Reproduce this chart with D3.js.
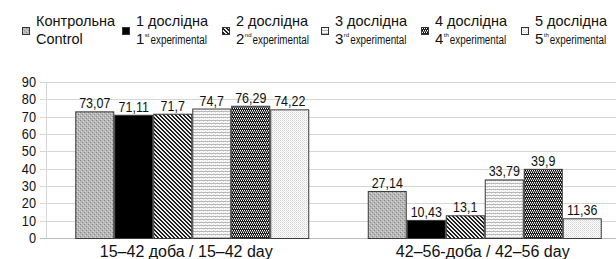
<!DOCTYPE html>
<html><head><meta charset="utf-8">
<script src="https://cdn.jsdelivr.net/npm/d3@7"></script>
<style>body{margin:0;background:#fff}svg{display:block}text{font-family:"Liberation Sans",Arial,sans-serif;fill:#111}</style>
</head><body>
<svg id="c" width="616" height="259"></svg>
<script>
const categories = ["15–42 доба / 15–42 day", "42–56-доба / 42–56 day"];
const seriesNames = ["Контрольна", "1 дослідна", "2 дослідна", "3 дослідна", "4 дослідна", "5 дослідна"];
const seriesSub = ["Control", "1", "2", "3", "4", "5"];
const seriesSup = ["", "st", "nd", "rd", "th", "th"];
const seriesValues = [
  [73.07, 27.14],
  [71.11, 10.43],
  [71.7, 13.1],
  [74.7, 33.79],
  [76.29, 39.9],
  [74.22, 11.36]
];
const valueLabels = [
  ["73,07", "27,14"],
  ["71,11", "10,43"],
  ["71,7", "13,1"],
  ["74,7", "33,79"],
  ["76,29", "39,9"],
  ["74,22", "11,36"]
];
const yTicks = [0, 10, 20, 30, 40, 50, 60, 70, 80, 90];

const svg = d3.select("#c");
const defs = svg.append("defs");

function squeeze(sel, f) {
  sel.each(function () {
    const w = this.getComputedTextLength();
    d3.select(this).attr("textLength", w * f).attr("lengthAdjust", "spacingAndGlyphs");
  });
}

function pat(id, w, h, bg, draw) {
  const p = defs.append("pattern").attr("id", id).attr("patternUnits", "userSpaceOnUse")
    .attr("width", w).attr("height", h);
  p.append("rect").attr("width", w).attr("height", h).attr("fill", bg);
  draw(p);
}
function px(p, pts, col) { pts.forEach(([x, y]) => p.append("rect").attr("x", x).attr("y", y).attr("width", 1).attr("height", 1).attr("fill", col)); }

pat("p0", 4, 4, "#b8b8b8", p => { px(p, [[0,0],[2,2]], "#888"); px(p, [[1,3],[3,1]], "#d8d8d8"); });
pat("p1", 4, 4, "#000", p => {});
pat("p2", 4, 4, "#eeeeee", p => { px(p, [[0,0],[1,0],[1,1],[2,1],[2,2],[3,2],[3,3],[0,3]], "#1e1e1e"); });
pat("p3", 4, 3, "#fafafa", p => { p.append("rect").attr("x",0).attr("y",0).attr("width",4).attr("height",1).attr("fill","#b8b8b8"); px(p, [[1,2],[3,1]], "#dedede"); });
pat("p4", 4, 4, "#6e6e6e", p => { px(p, [[0,0],[2,0],[1,2],[3,2]], "#000"); px(p, [[1,0],[3,0],[0,2],[2,2]], "#fff"); px(p, [[0,1],[1,1],[2,1],[3,1]], "#2a2a2a"); });
pat("p5", 2, 2, "#ffffff", p => { px(p, [[0,0]], "#d2d2d2"); px(p, [[1,1]], "#e6e6e6"); });

const x0 = d3.scaleBand().domain(categories).range([46, 631]).paddingInner(0.2).paddingOuter(0.1);
const x1 = d3.scaleBand().domain(d3.range(seriesNames.length)).range([0, x0.bandwidth()]);
const y = d3.scaleLinear().domain([0, 90]).range([238, 82]);

// gridlines
svg.append("g").selectAll("line").data(yTicks).join("line")
  .attr("x1", 40).attr("x2", 616).attr("y1", d => Math.round(y(d)) + 0.5).attr("y2", d => Math.round(y(d)) + 0.5)
  .attr("stroke", d => d === 0 ? "#bdbdbd" : "#d6d6d6").attr("stroke-width", 1);
svg.append("line").attr("x1", 46.5).attr("x2", 46.5).attr("y1", y(90)).attr("y2", y(0))
  .attr("stroke", "#d6d6d6");

// y labels
svg.append("g").selectAll("text").data(yTicks).join("text")
  .attr("x", 36).attr("y", d => y(d) + 5).attr("text-anchor", "end")
  .style("font-size", "14.5px").text(d => d).call(squeeze, 0.88);

// bars
const rowData = (s, i) => categories.map((c, j) => ({ c, i, v: seriesValues[i][j], l: valueLabels[i][j] }));
const groups = svg.append("g").selectAll("g").data(seriesNames).join("g");
groups.selectAll("rect").data(rowData).join("rect")
  .attr("x", d => x0(d.c) + x1(d.i) + 0.5)
  .attr("y", d => y(d.v) + 0.5)
  .attr("width", x1.bandwidth() - 1)
  .attr("height", d => y(0) - y(d.v))
  .attr("fill", d => `url(#p${d.i})`)
  .attr("stroke", "#3a3a3a").attr("stroke-width", 1);
groups.selectAll("text").data(rowData).join("text")
  .attr("x", d => x0(d.c) + x1(d.i) + x1.bandwidth() / 2)
  .attr("y", d => y(d.v) - 3)
  .attr("text-anchor", "middle").style("font-size", "14.5px")
  .text(d => d.l).call(squeeze, 0.86);

// category labels
svg.append("g").selectAll("text").data(categories).join("text")
  .attr("x", (d, i) => x0(d) + x0.bandwidth() / 2 - (i === 0 ? 6 : 2)).attr("y", 257)
  .attr("text-anchor", "middle").style("font-size", "16px").text(d => d);

// legend
const lx = d3.scaleLinear().domain([0, 5]).range([22, 521]);
const lg = svg.append("g").selectAll("g").data(seriesNames).join("g")
  .attr("transform", (d, i) => `translate(${Math.round(lx(i))},0)`);
lg.append("rect").attr("x", 0.5).attr("y", 27.5).attr("width", 7).attr("height", 7)
  .attr("fill", (d, i) => `url(#p${i})`).attr("stroke", "#333");
lg.append("text").attr("x", 14).attr("y", 26).style("font-size", "14.5px").text(d => d);
lg.each(function (d, i) {
  const g = d3.select(this);
  const t = g.append("text").attr("x", 14).attr("y", 43.5)
    .style("font-size", i === 0 ? "14.5px" : "15px").text(seriesSub[i]);
  if (i > 0) {
    const sx = 14 + t.node().getComputedTextLength() + 0.5;
    const s = g.append("text").attr("x", sx).attr("y", 36.5).style("font-size", "6px").text(seriesSup[i]);
    const ex = sx + s.node().getComputedTextLength() + 1;
    g.append("text").attr("transform", `translate(${ex},43.5) scale(0.73,1)`)
      .style("font-size", "13.5px").text("experimental");
  }
});
</script>
</body></html>
